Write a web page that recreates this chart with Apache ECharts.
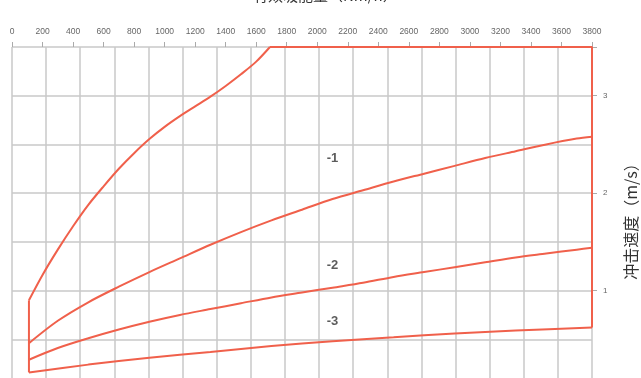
<!DOCTYPE html>
<html>
<head>
<meta charset="utf-8">
<script src="https://cdn.jsdelivr.net/npm/echarts@6/dist/echarts.min.js"></script>
<style>
html,body{margin:0;padding:0;background:#fff;}
#chart{width:641px;height:378px;}
</style>
</head>
<body>
<div id="chart"></div>
<script>
// Energy per hour (Nm/h) on x, impact velocity (m/s) on y
const xTickLabels = [0,200,400,600,800,1000,1200,1400,1600,1800,2000,2200,2400,2600,2800,3000,3200,3400,3600,3800];
const yTickLabels = [0,1,2,3];

// Outer envelope pieces
const leftEdgeX = [111, 111];
const leftEdgeY = [0.16, 0.90];
const upperX = [111, 200, 300, 400, 500, 600, 700, 800, 900, 1000, 1100, 1200, 1300, 1400, 1500, 1600, 1690];
const upperY = [0.90, 1.16, 1.42, 1.66, 1.88, 2.07, 2.25, 2.41, 2.555, 2.68, 2.79, 2.89, 2.99, 3.10, 3.22, 3.35, 3.50];
const capX = [1690, 3800, 3800];
const capY = [3.50, 3.50, 0.62];

const curve1X = [111, 300, 500, 700, 900, 1100, 1300, 1500, 1700, 1900, 2100, 2300, 2500, 2700, 2900, 3100, 3300, 3500, 3700, 3800];
const curve1Y = [0.46, 0.69, 0.88, 1.04, 1.19, 1.33, 1.47, 1.60, 1.72, 1.83, 1.94, 2.03, 2.12, 2.20, 2.28, 2.36, 2.43, 2.50, 2.56, 2.58];

const curve2X = [111, 300, 500, 700, 900, 1100, 1300, 1500, 1700, 1900, 2100, 2300, 2500, 2700, 2900, 3100, 3300, 3500, 3700, 3800];
const curve2Y = [0.29, 0.41, 0.51, 0.60, 0.68, 0.75, 0.81, 0.87, 0.93, 0.98, 1.03, 1.08, 1.14, 1.19, 1.24, 1.29, 1.34, 1.38, 1.42, 1.44];

const curve3X = [111, 500, 900, 1300, 1700, 2100, 2500, 2900, 3300, 3800];
const curve3Y = [0.16, 0.24, 0.31, 0.37, 0.43, 0.48, 0.52, 0.56, 0.59, 0.62];

const curveNames = ['-1', '-2', '-3'];
const curveNameX = [2100, 2100, 2100];
const curveNameY = [2.36, 1.26, 0.68];

const zip = (xs, ys) => xs.map((x, i) => [x, ys[i]]);
const red = '#f0604b';
const gridGray = '#c9c9c9';

const chart = echarts.init(document.getElementById('chart'));
const lineSeries = (data, smooth) => ({
  type: 'line', xAxisIndex: 0, yAxisIndex: 0, data: data,
  symbol: 'none', smooth: smooth, silent: true,
  lineStyle: { color: red, width: 2 }, z: 5
});

chart.setOption({
  animation: false,
  backgroundColor: '#fff',
  title: {
    text: '有效吸能量（Nm/h）', left: 248, top: -17,
    textStyle: { fontSize: 15, fontWeight: 'normal', color: '#333', fontFamily: 'Noto Sans CJK SC' }
  },
  grid: { left: 12, width: 580, top: 47, height: 341, containLabel: false, outerBoundsMode: 'none' },
  xAxis: [
    {
      type: 'value', position: 'top', min: 0, max: 3800, interval: 200,
      axisLine: { show: false, onZero: false },
      axisTick: { show: true, inside: false, length: 5, lineStyle: { color: '#aaa' } },
      axisLabel: {
        fontSize: 8.5, color: '#666', margin: 11, fontFamily: 'Liberation Sans',
        formatter: (v) => xTickLabels.includes(v) ? String(v) : ''
      },
      splitLine: { show: false }
    },
    {
      type: 'value', position: 'bottom', min: 0, max: 17, interval: 1,
      axisLine: { show: false, onZero: false }, axisTick: { show: false, length: 0 }, axisLabel: { show: false },
      splitLine: { show: true, lineStyle: { color: gridGray, width: 1.5 } }
    }
  ],
  yAxis: [
    {
      type: 'value', position: 'left', min: 0, max: 3.5, interval: 0.5,
      axisLine: { show: false, onZero: false },
      axisTick: { show: false, length: 0, lineStyle: { width: 0 } },
      minorTick: { show: false },
      axisLabel: { show: false },
      splitLine: { show: true, lineStyle: { color: gridGray, width: 1.5 } }
    },
    {
      type: 'value', position: 'right', min: 0, max: 3.5, interval: 1,
      axisLine: { show: false, onZero: false },
      axisTick: { show: true, inside: false, length: 5, lineStyle: { color: '#aaa' } },
      axisLabel: {
        fontSize: 8, color: '#666', margin: 11,
        padding: [14, 0, 0, 0], fontFamily: 'Liberation Sans',
        formatter: (v) => yTickLabels.includes(v) ? String(v) : ''
      },
      splitLine: { show: false },
      name: '冲击速度（m/s）', nameLocation: 'middle', nameRotate: 90, nameGap: 31,
      nameTextStyle: { fontSize: 16, color: '#333', fontFamily: 'Noto Sans CJK SC' }
    }
  ],
  series: [
    lineSeries(zip(leftEdgeX, leftEdgeY), false),
    lineSeries(zip(upperX, upperY), 0.3),
    lineSeries(zip(capX, capY), false),
    lineSeries(zip(curve1X, curve1Y), 0.3),
    lineSeries(zip(curve2X, curve2Y), 0.3),
    lineSeries(zip(curve3X, curve3Y), 0.3),
    {
      type: 'scatter', xAxisIndex: 0, yAxisIndex: 0, symbolSize: 0, silent: true,
      data: curveNames.map((n, i) => ({ name: n, value: [curveNameX[i], curveNameY[i]] })),
      label: {
        show: true, position: 'inside', formatter: (p) => p.name,
        fontSize: 13, fontWeight: 'bold', color: '#333', fontFamily: 'Liberation Sans'
      }
    }
  ]
});
</script>
</body>
</html>
